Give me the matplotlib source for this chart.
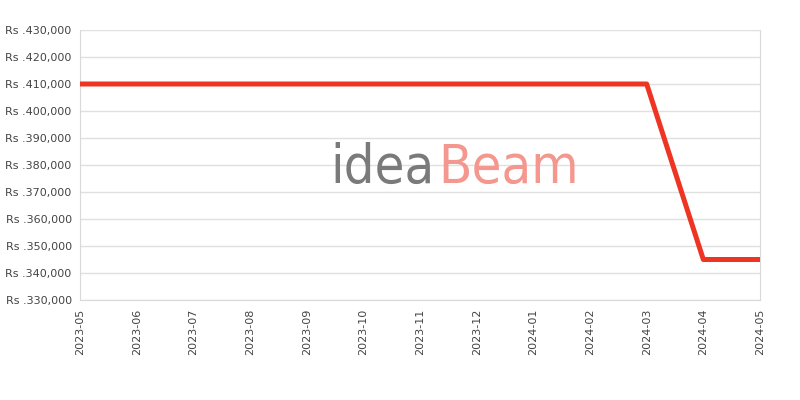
import matplotlib.pyplot as plt

months = ['2023-05', '2023-06', '2023-07', '2023-08', '2023-09', '2023-10', '2023-11',
          '2023-12', '2024-01', '2024-02', '2024-03', '2024-04', '2024-05']
prices = [410000, 410000, 410000, 410000, 410000, 410000, 410000,
          410000, 410000, 410000, 410000, 345000, 345000]
yticks = list(range(330000, 430001, 10000))

fig = plt.figure(figsize=(8, 4), dpi=100)
ax = fig.add_axes([0.1, 0.25, 0.85, 0.675])

x = list(range(len(months)))
ax.plot(x, prices, color='#EE3524', lw=3.6, solid_joinstyle='round', zorder=3)

ax.set_xlim(0, len(months) - 1)
ax.set_ylim(330000, 430000)
ax.set_yticks(yticks)
ax.set_yticklabels([f'Rs .{v:,}' for v in yticks])
ax.set_xticks(x)
ax.set_xticklabels(months, rotation=90)
ax.tick_params(length=0, labelsize=8, labelcolor='#444444', pad=6)
ax.grid(axis='y', color='#e0e0e0', lw=1, zorder=0)
ax.set_axisbelow(True)
for s in ax.spines.values():
    s.set_color('#d9d9d9')
ax.spines['top'].set_visible(False)

# watermark
ax.text(0.413, 0.5425, 'idea', fontsize=39, color='#7a7a7a', ha='left', va='baseline',
        family='DejaVu Sans', fontstretch='condensed', transform=fig.transFigure, zorder=2)
ax.text(0.548, 0.5425, 'Beam', fontsize=39, color='#f4978e', ha='left', va='baseline',
        family='DejaVu Sans', fontstretch='condensed', transform=fig.transFigure, zorder=2)

fig.savefig('out.png', dpi=100)
